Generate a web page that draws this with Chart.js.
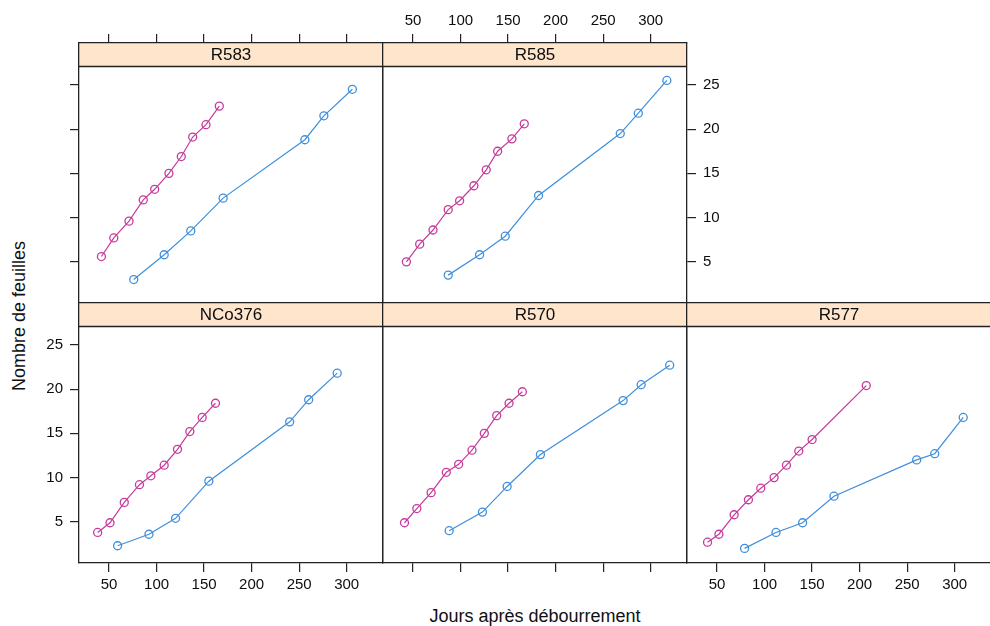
<!DOCTYPE html>
<html lang="fr">
<head>
<meta charset="UTF-8">
<title>Nombre de feuilles par variété</title>
<script src="https://cdn.jsdelivr.net/npm/chart.js"></script>
<style>
  body { margin: 0; background: #fff; }
  #wrap { position: relative; width: 990px; height: 626px; overflow: hidden; font-family: "Liberation Sans", Arial, sans-serif; }
  #wrap canvas { position: absolute; }
  .title { position: absolute; font-size: 18px; color: #111; white-space: nowrap; }
</style>
</head>
<body>
<div id="wrap">
  <div class="title" id="xTitle" style="left:535px; top:606px; transform:translateX(-50%);">Jours après débourrement</div>
  <div class="title" id="yTitle" style="left:19px; top:316px; transform:translate(-50%,-50%) rotate(-90deg);">Nombre de feuilles</div>
</div>
<script>
// ticks
const xTicks = [50, 100, 150, 200, 250, 300];
const yTicks = [5, 10, 15, 20, 25];

// variétés (ordre des panneaux)
const varietes = ['R583', 'R585', 'NCo376', 'R570', 'R577'];

// série rose (magenta)
const r583RoseJours = [42, 55, 71, 86, 98, 113, 126, 138, 152, 166];
const r583RoseFeuilles = [5.6, 7.7, 9.6, 12.0, 13.2, 15.0, 16.9, 19.1, 20.5, 22.6];
const r585RoseJours = [43, 57, 71, 87, 99, 114, 127, 139, 154, 167];
const r585RoseFeuilles = [5.0, 7.0, 8.6, 10.9, 11.9, 13.6, 15.4, 17.5, 18.9, 20.6];
const nco376RoseJours = [38, 51, 66, 82, 94, 108, 122, 135, 148, 162];
const nco376RoseFeuilles = [3.8, 4.9, 7.2, 9.2, 10.2, 11.4, 13.2, 15.2, 16.8, 18.4];
const r570RoseJours = [41, 54, 69, 85, 98, 112, 125, 138, 151, 165];
const r570RoseFeuilles = [4.9, 6.5, 8.3, 10.6, 11.5, 13.1, 15.0, 17.0, 18.4, 19.7];
const r577RoseJours = [40, 52, 68, 83, 96, 110, 123, 136, 150, 207];
const r577RoseFeuilles = [2.7, 3.6, 5.8, 7.5, 8.8, 10.0, 11.4, 13.0, 14.3, 20.4];

// série bleue
const r583BleuJours = [76, 108, 136, 170, 256, 276, 306];
const r583BleuFeuilles = [3.0, 5.8, 8.5, 12.2, 18.8, 21.5, 24.5];
const r585BleuJours = [87, 120, 147, 182, 268, 287, 317];
const r585BleuFeuilles = [3.5, 5.8, 7.9, 12.5, 19.5, 21.8, 25.5];
const nco376BleuJours = [59, 92, 120, 155, 240, 260, 290];
const nco376BleuFeuilles = [2.3, 3.6, 5.4, 9.6, 16.3, 18.8, 21.8];
const r570BleuJours = [88, 123, 149, 184, 271, 290, 320];
const r570BleuFeuilles = [4.0, 6.1, 9.0, 12.6, 18.7, 20.5, 22.7];
const r577BleuJours = [79, 112, 140, 173, 260, 279, 309];
const r577BleuFeuilles = [2.0, 3.8, 4.9, 7.9, 12.0, 12.7, 16.8];

const rose = [[r583RoseJours, r583RoseFeuilles], [r585RoseJours, r585RoseFeuilles], [nco376RoseJours, nco376RoseFeuilles], [r570RoseJours, r570RoseFeuilles], [r577RoseJours, r577RoseFeuilles]];
const bleu = [[r583BleuJours, r583BleuFeuilles], [r585BleuJours, r585BleuFeuilles], [nco376BleuJours, nco376BleuFeuilles], [r570BleuJours, r570BleuFeuilles], [r577BleuJours, r577BleuFeuilles]];

// panel layout: col, row, and which sides get ticks ('t') or ticks+labels ('l')
const panels = [
  { col: 0, row: 0, top: 't', left: 't' },
  { col: 1, row: 0, top: 'l', right: 'l' },
  { col: 0, row: 1, bottom: 'l', left: 'l' },
  { col: 1, row: 1, bottom: 't' },
  { col: 2, row: 1, bottom: 'l' }
];

const M = 50, PW = 304, PH = 260, STRIP = 23;
const colLeft = [79, 383, 687];
const rowTop = [43, 303];
const X_MIN = 18.4, X_MAX = 338.2, Y_MIN = 0.35, Y_MAX = 29.73;
const FONT = '"Liberation Sans", Arial, sans-serif';
const ROSE = '#c63a9b', BLEU = '#3f8fdc';

function toPts(xs, ys) { return xs.map((x, i) => ({ x: x, y: ys[i] })); }

function axis(pos, mode, horiz) {
  return {
    type: 'linear',
    position: pos,
    min: horiz ? X_MIN : Y_MIN,
    max: horiz ? X_MAX : Y_MAX,
    afterBuildTicks: s => { s.ticks = (horiz ? xTicks : yTicks).map(v => ({ value: v })); },
    afterFit: s => { if (horiz) s.height = M; else s.width = M; },
    grid: { display: !!mode, drawOnChartArea: false, drawTicks: true, tickLength: 9, color: '#222', lineWidth: 1.2 },
    border: { display: true, color: '#222', width: 1.3 },
    ticks: {
      display: mode === 'l', autoSkip: false, maxRotation: 0, minRotation: 0,
      padding: horiz ? 4 : 7, color: '#0d0d0d', font: { family: FONT, size: 15 }
    }
  };
}

const stripPlugin = {
  id: 'strip',
  beforeDraw(chart, args, opts) {
    const a = chart.chartArea, ctx = chart.ctx;
    ctx.save();
    ctx.fillStyle = '#ffe5cc';
    ctx.fillRect(a.left, a.top, a.right - a.left, STRIP);
    ctx.strokeStyle = '#222';
    ctx.lineWidth = 1.3;
    ctx.beginPath();
    ctx.moveTo(a.left, a.top + STRIP + 0.5);
    ctx.lineTo(a.right, a.top + STRIP + 0.5);
    ctx.stroke();
    ctx.fillStyle = '#0d0d0d';
    ctx.font = '17px ' + FONT;
    ctx.textAlign = 'center';
    ctx.textBaseline = 'middle';
    ctx.fillText(opts.label, (a.left + a.right) / 2, a.top + STRIP / 2 + 1);
    ctx.restore();
  }
};

const wrap = document.getElementById('wrap');
panels.forEach((p, i) => {
  const cv = document.createElement('canvas');
  cv.width = PW + 2 * M;
  cv.height = PH + 2 * M;
  cv.style.left = (colLeft[p.col] - M) + 'px';
  cv.style.top = (rowTop[p.row] - M) + 'px';
  wrap.appendChild(cv);

  const serie = (src, col) => ({
    data: toPts(src[i][0], src[i][1]),
    showLine: true,
    borderColor: col,
    backgroundColor: 'rgba(0,0,0,0)',
    borderWidth: 1.2,
    pointRadius: 4,
    pointBorderWidth: 1.3,
    pointBorderColor: col,
    pointBackgroundColor: 'rgba(0,0,0,0)',
    xAxisID: 'x',
    yAxisID: 'y'
  });

  new Chart(cv, {
    type: 'scatter',
    data: { datasets: [serie(rose, ROSE), serie(bleu, BLEU)] },
    options: {
      responsive: false,
      animation: false,
      devicePixelRatio: 1,
      layout: { padding: 0 },
      plugins: { legend: { display: false }, tooltip: { enabled: false }, strip: { label: varietes[i] } },
      scales: {
        x: axis('bottom', p.bottom, true),
        x2: axis('top', p.top, true),
        y: axis('left', p.left, false),
        y2: axis('right', p.right, false)
      }
    },
    plugins: [stripPlugin]
  });
});
</script>
</body>
</html>
